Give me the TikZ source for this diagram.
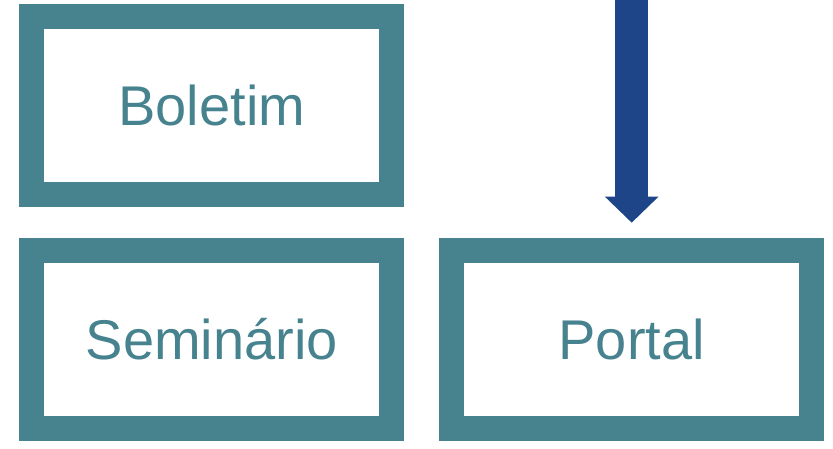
\documentclass[tikz,border=0pt]{standalone}
\usepackage{fontspec}
\setmainfont{Liberation Sans}
\usetikzlibrary{arrows.meta}
\definecolor{boxteal}{RGB}{71,130,143}
\definecolor{arrowblue}{RGB}{29,69,136}
\begin{document}
\begin{tikzpicture}[x=1pt,y=-1pt,
  box/.style={draw=boxteal, line width=25pt, text=boxteal, minimum width=360pt, minimum height=178pt, inner sep=0pt, font=\fontsize{56}{60}\selectfont}]
\useasboundingbox (0,0) rectangle (833,448);
\node[box] (boletim) at (211.8,105) {Boletim};
\node[box] (seminario) at (211.8,339.2) {Seminário};
\node[box] (portal) at (631.7,339.2) {Portal};
\coordinate (topin) at (631.7,0);
\draw[arrowblue, line width=33pt, -{Triangle[width=52pt,length=26pt]}] (topin) -- ([yshift=15pt]portal.north);
\end{tikzpicture}
\end{document}
